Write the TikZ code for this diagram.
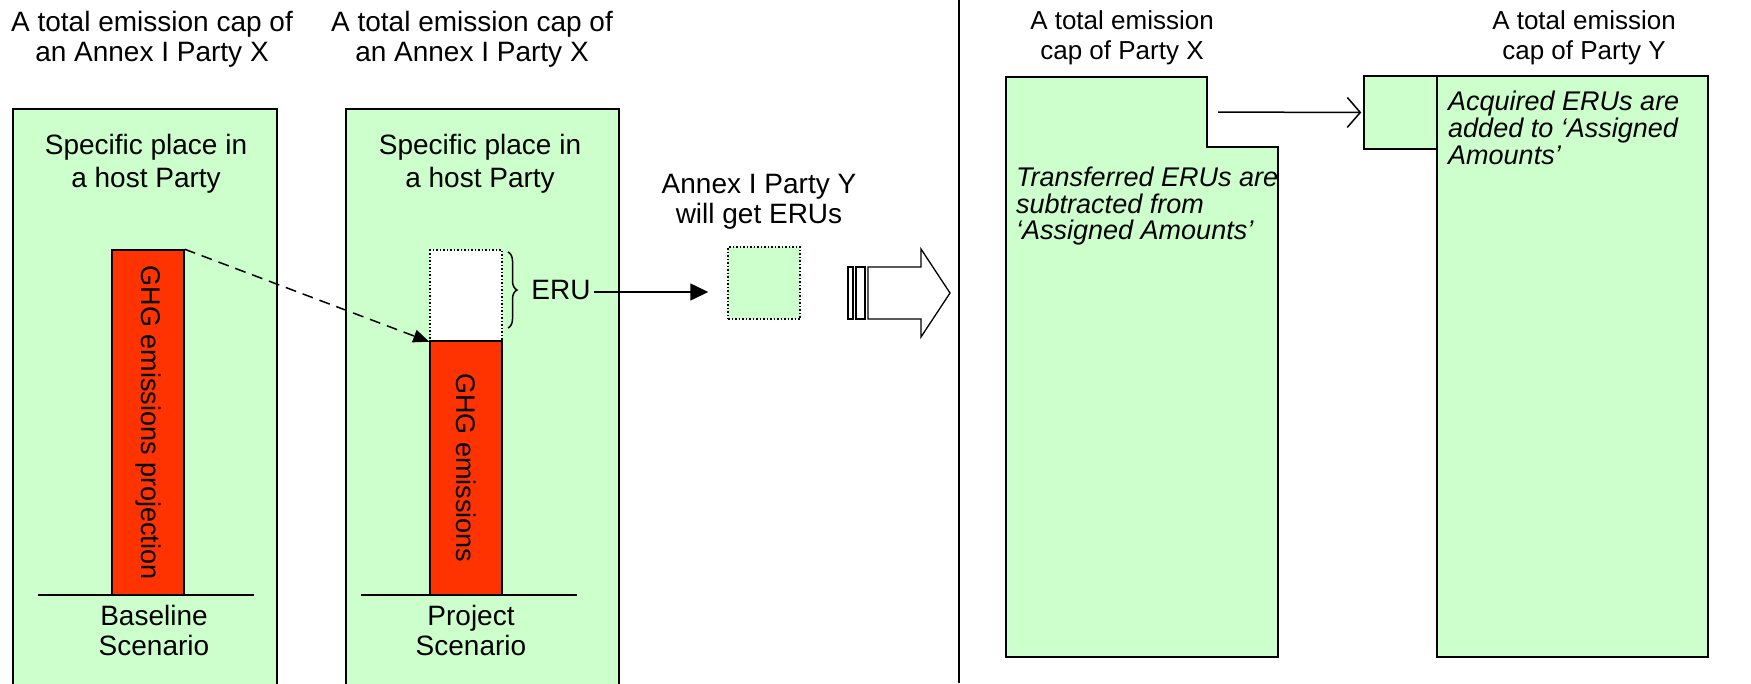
\documentclass[tikz,border=0pt]{standalone}
\usepackage{fontspec}
\setmainfont{Liberation Sans}
\usetikzlibrary{arrows.meta,decorations.pathreplacing}
\definecolor{pale}{HTML}{CCFFCC}
\definecolor{ghg}{HTML}{FF3300}
\begin{document}
\begin{tikzpicture}[x=1pt,y=-1pt,
  gbox/.style={draw=black,fill=pale,line width=1.5pt,inner sep=0pt},
  redbar/.style={draw=black,fill=ghg,line width=1.5pt,inner sep=0pt},
  dotbox/.style={draw=black,dotted,line width=1.5pt,inner sep=0pt},
  lbl/.style={align=center,font=\fontsize{28}{30}\selectfont,inner sep=0pt},
  lblsm/.style={align=center,font=\fontsize{26}{30}\selectfont,inner sep=0pt},
  lbltwo/.style={align=center,font=\fontsize{28}{33}\selectfont,inner sep=0pt},
  vtext/.style={rotate=-90,font=\fontsize{27}{30}\selectfont,inner sep=0pt},
  itext/.style={align=left,inner sep=0pt,anchor=north west},
  thick line/.style={line width=1.5pt}]
\useasboundingbox (0,0) rectangle (1751,683);

% ---------- left panel ----------
\node[gbox,minimum width=264pt,minimum height=620pt,anchor=north west] (boxA) at (12,108) {};
\node[gbox,minimum width=273pt,minimum height=620pt,anchor=north west] (boxB) at (345,108) {};

\node[lbl] (t1) at (152,39) {A total emission cap of\\an Annex I Party X};
\node[lbl] (t2) at (472,39) {A total emission cap of\\an Annex I Party X};

\node[lbltwo] (spA) at (146,164) {Specific place in\\a host Party};
\node[lbltwo] (spB) at (480,164) {Specific place in\\a host Party};

% baseline bar
\node[redbar,minimum width=72pt,minimum height=345pt] (barA) at (148,422.5) {};
\node[vtext] (barAtext) at (barA.center) {GHG emissions projection};
\draw[thick line] (38,595) -- (254,595);
\node[lbl] (baseA) at (154,630) {Baseline\\Scenario};

% project bar
\node[dotbox,fill=white,minimum width=72pt,minimum height=91pt] (wbox) at (466,295.5) {};
\node[redbar,minimum width=72pt,minimum height=254pt] (barB) at (466,468) {};
\node[vtext] (barBtext) at (barB.center) {GHG emissions};
\draw[thick line] (361,595) -- (577,595);
\node[lbl] (projB) at (471,630) {Project\\Scenario};

\draw[thick line,dash pattern=on 11pt off 7pt,-{Triangle[length=16pt,width=13pt]}] (barA.north east) -- (wbox.south west);

\draw[decorate,decoration={brace,amplitude=9pt},line width=1.5pt] (508,252) -- (508,328);
\node[lbl] (eru) at (561,290) {ERU};

\node[lbl] (annexY) at (759,202) {Annex I Party Y\\will get ERUs};
\node[dotbox,fill=pale,minimum width=72pt,minimum height=72pt] (ybox) at (764,283) {};
\draw[thick line,-{Triangle[length=18pt,width=17pt]},shorten >=19pt] ([xshift=3pt,yshift=-2pt]eru.east) -- ([yshift=-2pt]eru.east -| ybox.west);

% striped block arrow
\draw[line width=1.3pt,fill=white] (848,267) rectangle (853,319);
\draw[line width=1.3pt,fill=white] (856,267) rectangle (865,319);
\draw[line width=1.3pt,fill=white] (868,267) -- (921,267) -- (921,249) -- (950,293) -- (921,337) -- (921,319) -- (868,319) -- cycle;

% divider
\draw[thick line] (959,0) -- (959,683);

% ---------- right panel ----------
\node[lblsm] (tX) at (1122,38) {A total emission\\cap of Party X};
\node[lblsm] (tY) at (1584,38) {A total emission\\cap of Party Y};

\draw[gbox] (1006,77) -- (1207,77) -- (1207,147) -- (1278,147) -- (1278,657) -- (1006,657) -- cycle;
\coordinate (xnotch) at (1207,112);
\node[itext,font=\fontsize{27}{26.5}\selectfont\itshape] (txX) at (1016,167) {Transferred ERUs are\\subtracted from\\‘Assigned Amounts’};

\node[gbox,minimum width=73pt,minimum height=73pt] (ysmall) at (1400.5,112.5) {};
\node[gbox,minimum width=271pt,minimum height=581pt] (boxY) at (1572.5,366.5) {};
\node[itext,font=\fontsize{27}{27}\selectfont\itshape] (txY) at (1448,91) {Acquired ERUs are\\added to ‘Assigned\\Amounts’};

\draw[thick line,-{Straight Barb[length=13pt,width=30pt]},shorten <=11pt,shorten >=2pt] (xnotch) -- (ysmall.west);
\end{tikzpicture}
\end{document}
